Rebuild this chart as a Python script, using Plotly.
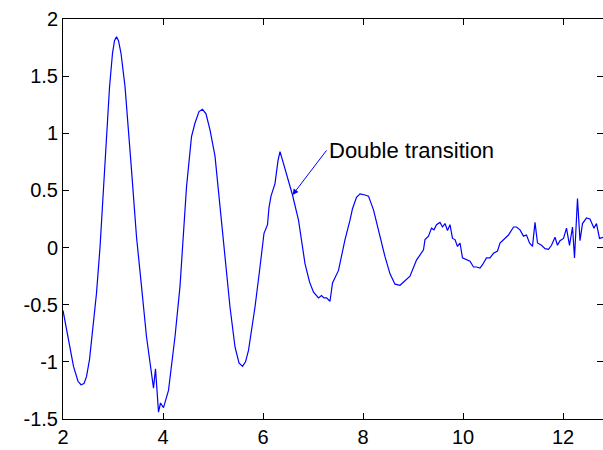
import plotly.graph_objects as go

x_vals = [2.0, 2.11, 2.21, 2.3, 2.36, 2.42, 2.47, 2.53, 2.61, 2.67, 2.74, 2.81, 2.87, 2.93, 2.99, 3.03, 3.07, 3.11, 3.16,
          3.24, 3.37, 3.47, 3.57, 3.67, 3.81, 3.85, 3.91, 3.95, 4.01, 4.11, 4.24, 4.34, 4.47, 4.57,
          4.64, 4.72, 4.79, 4.86, 4.94, 5.04, 5.14, 5.24, 5.34, 5.44, 5.52, 5.59, 5.65, 5.71, 5.84,
          5.94, 6.02, 6.09, 6.12, 6.16, 6.24, 6.30, 6.34, 6.40, 6.47, 6.59, 6.71, 6.84, 6.93, 7.01,
          7.11, 7.17, 7.22, 7.27, 7.34, 7.37, 7.39, 7.51, 7.64, 7.74, 7.79, 7.87, 7.94, 8.04, 8.11,
          8.21, 8.31, 8.44, 8.54, 8.64, 8.74, 8.87, 8.94, 9.07, 9.21, 9.24, 9.31, 9.37, 9.42, 9.47,
          9.54, 9.59, 9.64, 9.69, 9.74, 9.79, 9.84, 9.89, 9.94, 9.99, 10.07, 10.14, 10.21, 10.27,
          10.34, 10.39, 10.47, 10.54, 10.61, 10.69, 10.74, 10.84, 10.91, 11.01, 11.07, 11.14, 11.21,
          11.27, 11.33, 11.39, 11.44, 11.49, 11.57, 11.64, 11.71, 11.77, 11.84, 11.89, 11.94, 12.01,
          12.07, 12.13, 12.19, 12.23, 12.29, 12.34, 12.39, 12.47, 12.54, 12.62, 12.67, 12.73, 12.77,
          12.8]
y_vals = [-0.55, -0.82, -1.04, -1.17, -1.20, -1.19, -1.13, -0.98, -0.68, -0.40, 0.0, 0.52, 0.95, 1.40, 1.70, 1.81, 1.845, 1.81, 1.70,
          1.41, 0.68, 0.095, -0.34, -0.78, -1.23, -1.06, -1.44, -1.36, -1.40, -1.25, -0.78, -0.34, 0.53, 0.97,
          1.09, 1.19, 1.21, 1.17, 1.03, 0.80, 0.36, -0.08, -0.52, -0.87, -1.01, -1.04, -1.00, -0.90, -0.52,
          -0.17, 0.125, 0.20, 0.35, 0.45, 0.56, 0.76, 0.84, 0.75, 0.65, 0.46, 0.24, -0.14, -0.30, -0.39,
          -0.44, -0.42, -0.44, -0.44, -0.47, -0.34, -0.31, -0.20, 0.07, 0.24, 0.34, 0.44, 0.47, 0.46, 0.45,
          0.33, 0.15, -0.08, -0.23, -0.32, -0.33, -0.28, -0.25, -0.11, -0.02, 0.07, 0.10, 0.17, 0.155, 0.20,
          0.22, 0.18, 0.21, 0.15, 0.20, 0.08, 0.07, 0.01, 0.04, -0.09, -0.11, -0.12, -0.17, -0.17,
          -0.18, -0.15, -0.09, -0.09, -0.05, -0.03, 0.04, 0.08, 0.11, 0.18, 0.18, 0.155, 0.10,
          0.11, 0.04, 0.01, 0.22, 0.04, 0.02, -0.01, -0.015, 0.02, 0.09, 0.02, 0.06, 0.08,
          0.17, 0.02, 0.18, -0.09, 0.43, 0.06, 0.21, 0.26, 0.25, 0.17, 0.21, 0.08, 0.09,
          0.09]

x_ticks = [2, 4, 6, 8, 10, 12]
x_tick_labels = ["2", "4", "6", "8", "10", "12"]
y_ticks = [-1.5, -1, -0.5, 0, 0.5, 1, 1.5, 2]
y_tick_labels = ["-1.5", "-1", "-0.5", "0", "0.5", "1", "1.5", "2"]

annot_text = "Double transition"
annot_tip = (6.59, 0.46)
annot_tail = (7.27, 0.85)

FONT = "Liberation Sans, Arial, Helvetica, sans-serif"

fig = go.Figure()
fig.add_trace(go.Scatter(x=x_vals, y=y_vals, mode="lines",
                         line=dict(color="#0000ff", width=1.2), showlegend=False,
                         hoverinfo="skip"))

fig.add_annotation(x=annot_tip[0], y=annot_tip[1], ax=annot_tail[0], ay=annot_tail[1],
                   axref="x", ayref="y", xref="x", yref="y",
                   text=annot_text, showarrow=True, arrowhead=2, arrowsize=1.2,
                   arrowwidth=1, arrowcolor="#0000ff", xanchor="left", yanchor="middle",
                   font=dict(family=FONT, size=22, color="black"))

axis_common = dict(showgrid=False, zeroline=False, showline=True, linecolor="black",
                   linewidth=1, ticks="inside", ticklen=6, tickcolor="black", mirror="ticks",
                   tickfont=dict(family=FONT, size=20, color="black"))

fig.update_xaxes(range=[2, 12.8], tickvals=x_ticks, ticktext=x_tick_labels, **axis_common)
fig.update_yaxes(range=[-1.5, 2], tickvals=y_ticks, ticktext=y_tick_labels, **axis_common)

fig.update_layout(width=603, height=450, margin=dict(l=63, r=0, t=19, b=31),
                  paper_bgcolor="white", plot_bgcolor="white", hovermode=False)

# remove the default 8px page margin so the figure fills the window exactly
fig.write_html("out.html", config={"displayModeBar": False, "staticPlot": True},
               post_script="document.body.style.margin='0';document.body.style.overflow='hidden';")
